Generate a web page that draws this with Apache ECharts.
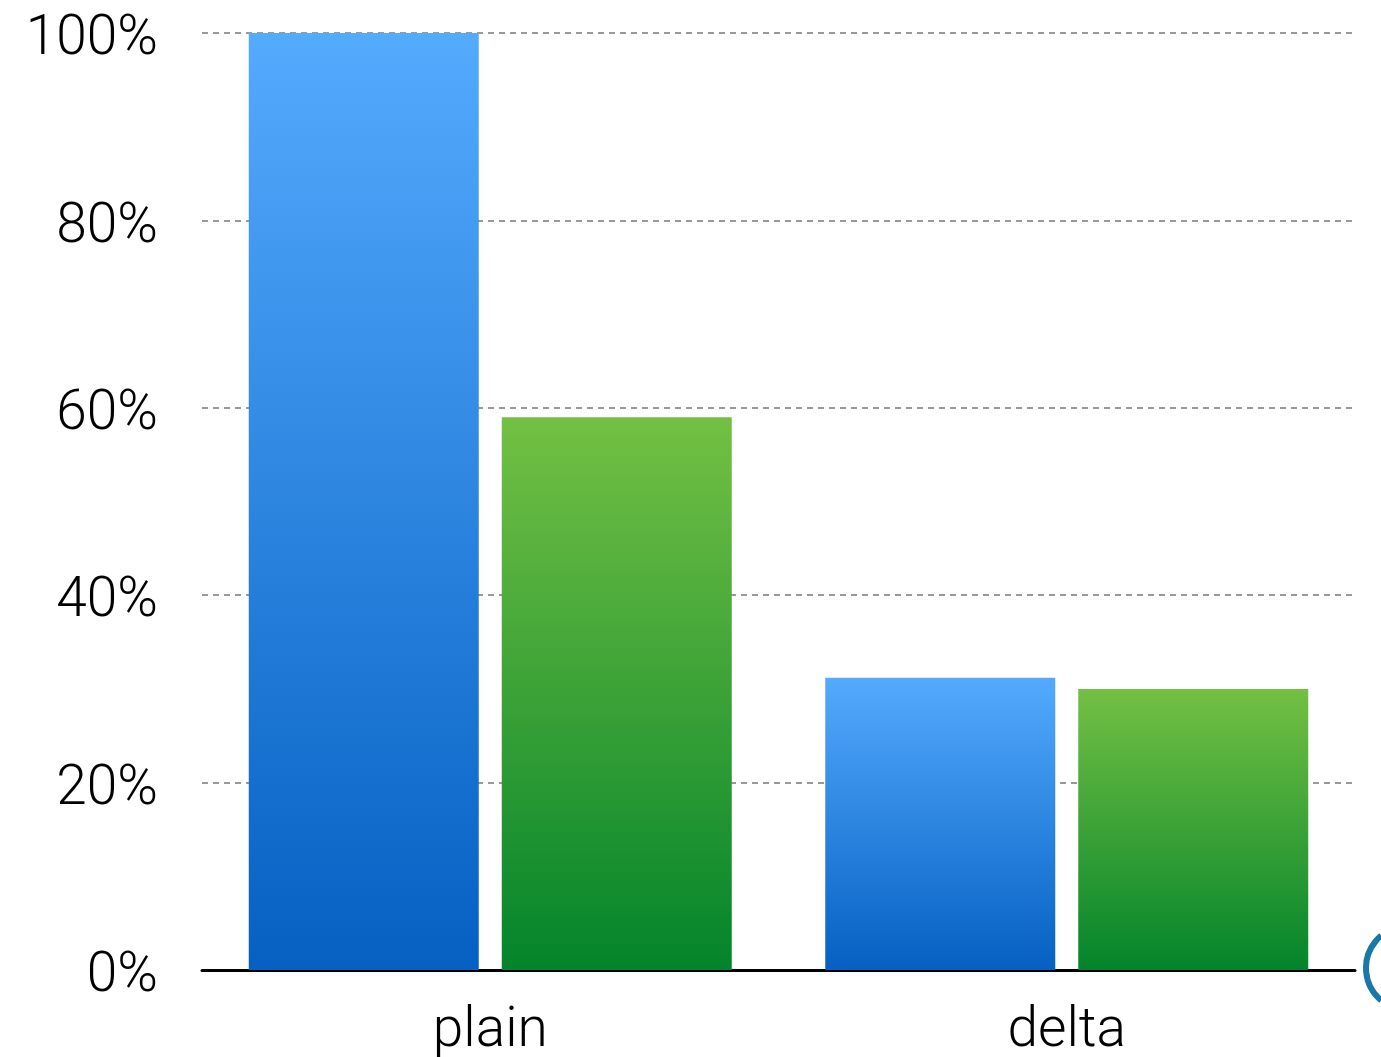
<!DOCTYPE html>
<html><head><meta charset="utf-8">
<script src="https://cdn.jsdelivr.net/npm/echarts@6/dist/echarts.min.js"></script>
<style>html,body{margin:0;padding:0;background:#fff}#c{width:1381px;height:1057px}</style>
</head><body><div id="c"></div>
<script>
const categories = ['plain', 'delta'];
const seriesBlue = [100, 31.2];
const seriesGreen = [59.0, 30.0];
const yTicks = [0, 20, 40, 60, 80, 100];

const chart = echarts.init(document.getElementById('c'));
const grad = (a, b) => new echarts.graphic.LinearGradient(0, 0, 0, 1, [{offset: 0, color: a}, {offset: 1, color: b}]);
const font = 'Roboto, "Liberation Sans", sans-serif';
chart.setOption({
  animation: false,
  grid: {left: 202, right: 26, top: 33, bottom: 87, containLabel: false, outerBoundsMode: 'none'},
  xAxis: {
    type: 'category', data: categories,
    axisLine: {show: true, lineStyle: {color: '#000', width: 3}},
    axisTick: {show: false},
    axisLabel: {fontSize: 55, fontFamily: font, fontWeight: 300, color: '#000', margin: 35}
  },
  yAxis: {
    type: 'value', min: yTicks[0], max: yTicks[yTicks.length - 1], interval: 20,
    axisLine: {show: false}, axisTick: {show: false},
    axisLabel: {fontSize: 55, fontFamily: font, fontWeight: 300, color: '#000', margin: 44,
      verticalAlign: 'top', lineHeight: 15,
      formatter: v => v + '%'},
    splitLine: {show: true, lineStyle: {color: '#999', width: 2, type: [6, 5]}}
  },
  series: [
    {type: 'bar', data: seriesBlue, barWidth: 230, barGap: '10%',
      itemStyle: {color: grad('#54aafd', '#0560c2')}},
    {type: 'bar', data: seriesGreen, barWidth: 230, barGap: '10%',
      itemStyle: {color: grad('#73c043', '#03842b')}}
  ],
  graphic: [{
    type: 'arc',
    shape: {cx: 1408, cy: 968, r: 42, startAngle: Math.PI * 0.72, endAngle: Math.PI * 1.28},
    style: {stroke: '#1878a8', lineWidth: 6, fill: null}
  }]
});
</script></body></html>
